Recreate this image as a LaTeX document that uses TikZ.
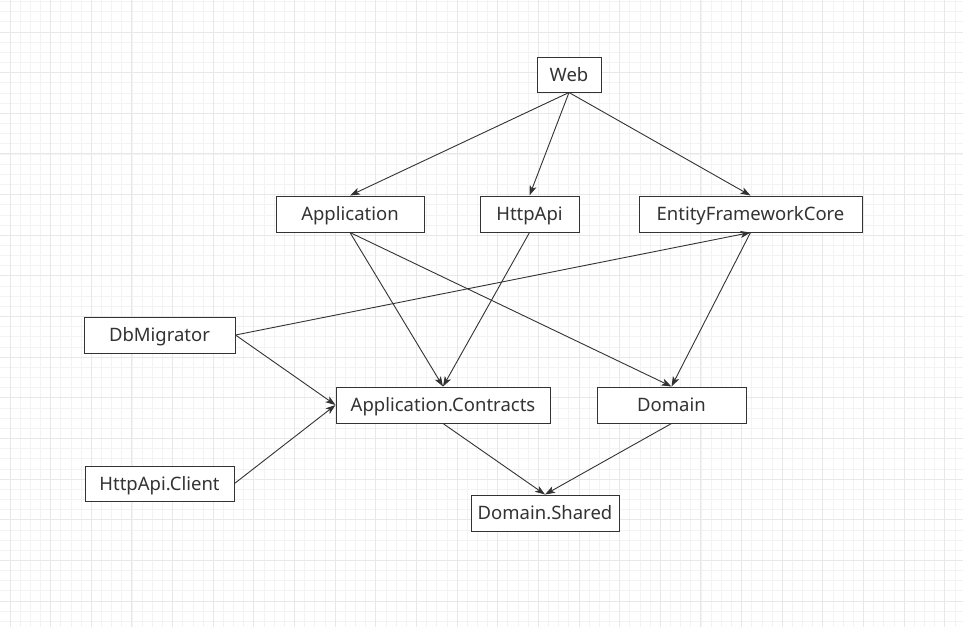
\documentclass[tikz,border=0pt]{standalone}
\usepackage{fontspec}
\setmainfont{Noto Sans}
\usetikzlibrary{arrows.meta}
\definecolor{ink}{HTML}{333333}
\definecolor{gridminor}{HTML}{F3F3F3}
\definecolor{gridmajor}{HTML}{E8E8E8}
\tikzset{
  box/.style={draw=ink, line width=1pt, fill=white, text=ink, inner sep=0pt, minimum height=36pt, text height=15pt, text depth=2pt, font=\fontsize{18.5}{22}\selectfont},
  dep/.style={draw=ink, line width=0.9pt, -{Stealth[length=10pt,width=7pt,inset=2.5pt]}},
  gminor/.style={draw=gridminor, line width=0.7pt},
  gmajor/.style={draw=gridmajor, line width=0.9pt}
}
\begin{document}
\begin{tikzpicture}[x=1pt,y=-1pt]
\useasboundingbox (0,0) rectangle (963,627);
\fill[white] (0,0) rectangle (963,627);
% grid
\foreach \i in {0,...,95} \draw[gminor] ({-0.16+10.16*\i},0) -- ({-0.16+10.16*\i},627);
\foreach \j in {0,...,62} \draw[gminor] (0,{1.52+10.16*\j}) -- (963,{1.52+10.16*\j});
\foreach \i in {0,...,24} \draw[gmajor] ({10+40.64*\i},0) -- ({10+40.64*\i},627);
\foreach \j in {-1,...,15} \draw[gmajor] (0,{32+40.64*\j}) -- (963,{32+40.64*\j});
% nodes
\node[box, minimum width=64pt, minimum height=35pt] (web) at (569,74.5) {Web};
\node[box, minimum width=148pt] (app) at (350,214) {Application};
\node[box, minimum width=99pt] (httpapi) at (529.5,214) {HttpApi};
\node[box, minimum width=223pt] (efc) at (750.5,214) {EntityFrameworkCore};
\node[box, minimum width=151pt] (dbm) at (159.5,335) {DbMigrator};
\node[box, minimum width=214pt] (ac) at (443,405) {Application.Contracts};
\node[box, minimum width=149pt] (domain) at (671.5,405) {Domain};
\node[box, minimum width=149pt, minimum height=35pt] (hac) at (159.5,483.5) {HttpApi.Client};
\node[box, minimum width=148pt] (ds) at (545,513) {Domain.Shared};
% edges
\draw[dep] (web.south) -- (app.north);
\draw[dep] (web.south) -- (httpapi.north);
\draw[dep] (web.south) -- (efc.north);
\draw[dep] (app.south) -- (ac.north);
\draw[dep] (app.south) -- (domain.north);
\draw[dep] (httpapi.south) -- (ac.north);
\draw[dep] (efc.south) -- (domain.north);
\draw[dep] (dbm.east) -- (efc.south);
\draw[dep] (dbm.east) -- (ac.west);
\draw[dep] (hac.east) -- (ac.west);
\draw[dep] (ac.south) -- (ds.north);
\draw[dep] (domain.south) -- (ds.north);
\end{tikzpicture}
\end{document}
